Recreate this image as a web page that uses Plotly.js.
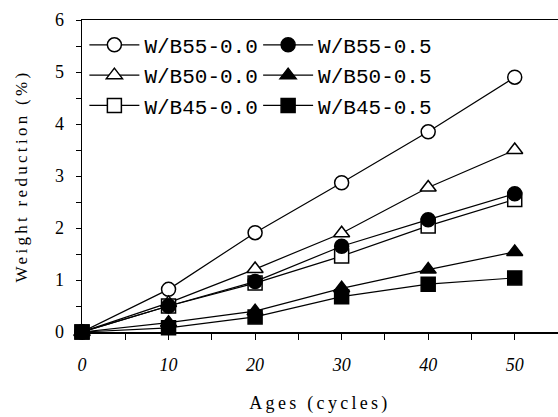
<!DOCTYPE html>
<html>
<head>
<meta charset="utf-8">
<script src="https://cdn.plot.ly/plotly-3.0.1.min.js"></script>
<style>
html,body{margin:0;padding:0;background:#fff}
#chart{width:558px;height:417px}
#chart text.ytitle{letter-spacing:3.3px}
#chart text.xtitle{letter-spacing:3.3px}
</style>
</head>
<body>
<div id="chart"></div>
<script>
var ages = [0, 10, 20, 30, 40, 50];
var wb55_00 = [0, 0.82, 1.91, 2.87, 3.85, 4.90];
var wb55_05 = [0, 0.50, 0.97, 1.65, 2.16, 2.66];
var wb50_00 = [0, 0.56, 1.21, 1.90, 2.78, 3.50];
var wb50_05 = [0, 0.18, 0.40, 0.84, 1.20, 1.54];
var wb45_00 = [0, 0.50, 0.94, 1.46, 2.04, 2.55];
var wb45_05 = [0, 0.08, 0.29, 0.68, 0.92, 1.04];
var names = ['W/B55-0.0', 'W/B55-0.5', 'W/B50-0.0', 'W/B50-0.5', 'W/B45-0.0', 'W/B45-0.5'];

function tr(y, name, symbol, filled, leg) {
  return {
    x: ages, y: y, name: name, type: 'scatter', mode: 'lines+markers',
    cliponaxis: false, legend: leg,
    line: {color: '#000', width: 1.2},
    marker: {symbol: symbol, size: 14, color: filled ? '#000' : '#fff',
             line: {color: '#000', width: 1.5}}
  };
}
var data = [
  tr(wb55_00, names[0], 'circle', false, 'legend'),
  tr(wb50_00, names[2], 'triangle-up', false, 'legend'),
  tr(wb45_00, names[4], 'square', false, 'legend'),
  tr(wb55_05, names[1], 'circle', true, 'legend2'),
  tr(wb50_05, names[3], 'triangle-up', true, 'legend2'),
  tr(wb45_05, names[5], 'square', true, 'legend2')
];

var serif = 'Liberation Serif, Times New Roman, serif';
var mono = 'Liberation Mono, DejaVu Sans Mono, monospace';
var layout = {
  width: 558, height: 417,
  margin: {l: 82, r: 0, t: 20, b: 85},
  paper_bgcolor: '#fff', plot_bgcolor: '#fff',
  showlegend: true,
  xaxis: {
    range: [0, 55], tickvals: [0, 10, 20, 30, 40, 50],
    ticks: 'outside', ticklen: 6, tickwidth: 1, tickcolor: '#000',
    minor: {dtick: 5, tick0: 0, ticks: 'outside', ticklen: 6, tickwidth: 1, tickcolor: '#000'},
    showline: true, linecolor: '#000', linewidth: 1.5, mirror: true,
    showgrid: false, zeroline: false, ticklabelstandoff: 10,
    tickfont: {family: serif, size: 18, color: '#000', style: 'italic'},
    title: {text: 'Ages (cycles)', font: {family: serif, size: 18, color: '#000'}, standoff: 22}
  },
  yaxis: {
    range: [0, 6], dtick: 1,
    ticks: 'outside', ticklen: 5, tickwidth: 1, tickcolor: '#000',
    minor: {dtick: 0.5, ticks: 'outside', ticklen: 5, tickwidth: 1, tickcolor: '#000'},
    showline: true, linecolor: '#000', linewidth: 1.5,
    showgrid: false, zeroline: false, ticklabelstandoff: 8,
    tickfont: {family: serif, size: 18, color: '#000'},
    title: {text: 'Weight reduction (%)', font: {family: serif, size: 17, color: '#000'}, standoff: 23}
  },
  legend: {x: 0.005, y: 0.985, xanchor: 'left', yanchor: 'top', bgcolor: 'rgba(0,0,0,0)',
           itemwidth: 50, font: {family: mono, size: 21, color: '#000'}, tracegroupgap: 0},
  legend2: {x: 0.37, y: 0.985, xanchor: 'left', yanchor: 'top', bgcolor: 'rgba(0,0,0,0)',
           itemwidth: 50, font: {family: mono, size: 21, color: '#000'}, tracegroupgap: 0}
};
Plotly.newPlot('chart', data, layout, {staticPlot: true, displayModeBar: false});
</script>
</body>
</html>
